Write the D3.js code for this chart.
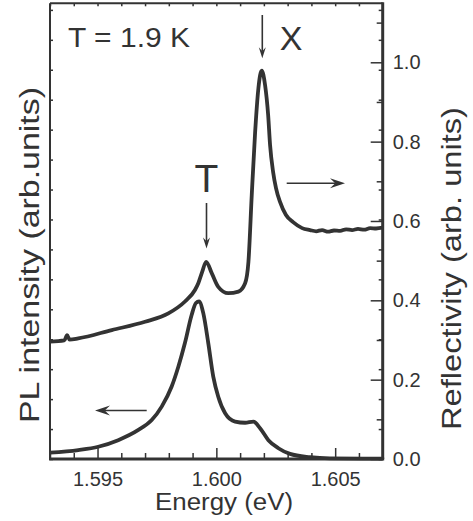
<!DOCTYPE html>
<html>
<head>
<meta charset="utf-8">
<script src="https://cdn.jsdelivr.net/npm/d3@7"></script>
<style>
  body { margin: 0; background: #fff; }
  text { font-family: "Liberation Sans", Arial, Helvetica, sans-serif; fill: #333; }
</style>
</head>
<body>
<div id="chart"></div>
<script>
// reflectivity curve (right axis)
var reflEnergy = [1.5930, 1.59360, 1.59372, 1.59382, 1.59419, 1.59560, 1.59700, 1.59798, 1.59868, 1.59910,
    1.59924, 1.59940, 1.59957, 1.59981, 1.60008, 1.60050, 1.60093, 1.60121, 1.60135, 1.60149,
    1.60163, 1.60177, 1.60191, 1.60205, 1.60218, 1.60226, 1.60239, 1.60251, 1.60268, 1.60293,
    1.60323, 1.60361, 1.60394, 1.60420, 1.60445, 1.60470, 1.60495, 1.60521, 1.60546, 1.60571,
    1.60596, 1.60622, 1.60647, 1.60672, 1.60700];
var reflValue = [0.296, 0.299, 0.312, 0.301, 0.304, 0.325, 0.346, 0.367, 0.397, 0.426,
    0.443, 0.471, 0.497, 0.468, 0.434, 0.418, 0.422, 0.443, 0.497, 0.666,
    0.822, 0.935, 0.979, 0.943, 0.867, 0.792, 0.723, 0.683, 0.648, 0.615,
    0.597, 0.582, 0.577, 0.574, 0.577, 0.573, 0.576, 0.575, 0.579, 0.577,
    0.580, 0.578, 0.582, 0.581, 0.583];

// PL curve (left axis, arb. units)
var plEnergy = [1.59300, 1.59419, 1.59503, 1.59587, 1.59672, 1.59728, 1.59770, 1.59812, 1.59840, 1.59868,
    1.59896, 1.59914, 1.59927, 1.59945, 1.59966, 1.59987, 1.60008, 1.60037, 1.60079, 1.60121,
    1.60156, 1.60184, 1.60219, 1.60261, 1.60310, 1.60394, 1.60478, 1.60700];
var plValue = [0.21, 0.30, 0.41, 0.63, 0.97, 1.30, 1.75, 2.42, 3.08, 3.88,
    4.81, 5.21, 5.26, 4.87, 3.87, 2.75, 2.08, 1.53, 1.25, 1.21,
    1.25, 1.03, 0.63, 0.36, 0.17, 0.06, 0.02, 0.01];

var xMajorTicks = [1.595, 1.600, 1.605];
var xMinorTicks = [1.593, 1.594, 1.596, 1.597, 1.598, 1.599, 1.601, 1.602, 1.603, 1.604, 1.606, 1.607];
var rMajorTicks = [0.0, 0.2, 0.4, 0.6, 0.8, 1.0];
var rMinorTicks = [0.1, 0.3, 0.5, 0.7, 0.9, 1.1];
var leftTicks = d3.range(0, 16);

var width = 473, height = 521;
var plotL = 50, plotR = 382.7, plotT = 3.3, plotB = 459;

var svg = d3.select("#chart").append("svg")
    .attr("width", width)
    .attr("height", height);

var x = d3.scaleLinear().domain([1.593, 1.607]).range([plotL, plotR]);
var yR = d3.scaleLinear().domain([0, 1.1487]).range([plotB, plotT]);
var yL = d3.scaleLinear().domain([0, 15.22]).range([plotB, plotT]);

// curves
var reflLine = d3.line()
    .x(function (d, i) { return x(reflEnergy[i]); })
    .y(function (d, i) { return yR(reflValue[i]); })
    .curve(d3.curveMonotoneX);
var plLine = d3.line()
    .x(function (d, i) { return x(plEnergy[i]); })
    .y(function (d, i) { return yL(plValue[i]); })
    .curve(d3.curveMonotoneX);

svg.append("path").datum(reflValue)
    .attr("d", reflLine)
    .attr("fill", "none").attr("stroke", "#333").attr("stroke-width", 3.8)
    .attr("stroke-linejoin", "round");
svg.append("path").datum(plValue)
    .attr("d", plLine)
    .attr("fill", "none").attr("stroke", "#333").attr("stroke-width", 3.8)
    .attr("stroke-linejoin", "round");

function styleAxis(g) {
    g.select(".domain").remove();
    g.selectAll(".tick line").attr("stroke", "#333").attr("stroke-width", 1.5);
    g.selectAll("text").attr("font-size", "20px").attr("fill", "#333")
        .attr("font-family", "'Liberation Sans', Arial, sans-serif");
}

// bottom axis
svg.append("g").attr("transform", "translate(0," + plotB + ")")
    .call(d3.axisBottom(x).tickValues(xMinorTicks).tickSize(-6).tickFormat(""))
    .call(styleAxis);
svg.append("g").attr("transform", "translate(0," + plotB + ")")
    .call(d3.axisBottom(x).tickValues(xMajorTicks).tickSize(-11).tickPadding(13)
        .tickFormat(d3.format(".3f")))
    .call(styleAxis);
// top axis (mirror)
svg.append("g").attr("transform", "translate(0," + plotT + ")")
    .call(d3.axisTop(x).tickValues(xMinorTicks.concat(xMajorTicks)).tickSize(-3).tickFormat(""))
    .call(styleAxis);

// left axis, no labels
svg.append("g").attr("transform", "translate(" + plotL + ",0)")
    .call(d3.axisLeft(yL).tickValues(leftTicks).tickSize(-3).tickFormat(""))
    .call(styleAxis);
svg.append("g").attr("transform", "translate(" + plotR + ",0)")
    .call(d3.axisRight(yL).tickValues(leftTicks).tickSize(-4).tickFormat(""))
    .call(styleAxis);

// right axis
svg.append("g").attr("transform", "translate(" + plotR + ",0)")
    .call(d3.axisRight(yR).tickValues(rMinorTicks).tickSize(-6).tickFormat(""))
    .call(styleAxis);
svg.append("g").attr("transform", "translate(" + plotR + ",0)")
    .call(d3.axisRight(yR).tickValues(rMajorTicks).tickSize(-12).tickPadding(10)
        .tickFormat(d3.format(".1f")))
    .call(styleAxis);

// frame
svg.append("line").attr("x1", plotL).attr("x2", plotL).attr("y1", plotT).attr("y2", plotB)
    .attr("stroke", "#333").attr("stroke-width", 2);
svg.append("line").attr("x1", plotL).attr("x2", plotR).attr("y1", plotT).attr("y2", plotT)
    .attr("stroke", "#333").attr("stroke-width", 2);
svg.append("line").attr("x1", plotL - 1).attr("x2", plotR + 1.5).attr("y1", plotB).attr("y2", plotB)
    .attr("stroke", "#333").attr("stroke-width", 3);
svg.append("line").attr("x1", plotR).attr("x2", plotR).attr("y1", plotT - 1).attr("y2", plotB)
    .attr("stroke", "#333").attr("stroke-width", 3);

// axis titles
svg.append("text")
    .attr("x", 224).attr("y", 510)
    .attr("text-anchor", "middle")
    .attr("font-size", "23px")
    .attr("textLength", 138).attr("lengthAdjust", "spacingAndGlyphs")
    .text("Energy (eV)");
svg.append("text")
    .attr("transform", "translate(39,255) rotate(-90)")
    .attr("text-anchor", "middle")
    .attr("font-size", "27px")
    .attr("textLength", 336).attr("lengthAdjust", "spacingAndGlyphs")
    .text("PL intensity (arb.units)");
svg.append("text")
    .attr("transform", "translate(461,268.5) rotate(-90)")
    .attr("text-anchor", "middle")
    .attr("font-size", "28px")
    .attr("textLength", 323).attr("lengthAdjust", "spacingAndGlyphs")
    .text("Reflectivity (arb. units)");

// annotations
svg.append("text").attr("x", 68).attr("y", 46.7)
    .attr("font-size", "27px")
    .attr("textLength", 122).attr("lengthAdjust", "spacingAndGlyphs")
    .text("T = 1.9 K");
svg.append("text").attr("x", 291).attr("y", 50)
    .attr("text-anchor", "middle").attr("font-size", "34px")
    .text("X");
svg.append("text").attr("x", 206.5).attr("y", 192)
    .attr("text-anchor", "middle").attr("font-size", "39px")
    .text("T");

function arrow(x1, y1, x2, y2, len, half) {
    var a = Math.atan2(y2 - y1, x2 - x1);
    var bx = x2 - len * Math.cos(a), by = y2 - len * Math.sin(a);
    var nx = -Math.sin(a), ny = Math.cos(a);
    var mx = x2 - len * 0.65 * Math.cos(a), my = y2 - len * 0.65 * Math.sin(a);
    svg.append("line")
        .attr("x1", x1).attr("y1", y1).attr("x2", mx).attr("y2", my)
        .attr("stroke", "#333").attr("stroke-width", 1.6);
    svg.append("path")
        .attr("d", "M" + x2 + "," + y2 +
            "L" + (bx + nx * half) + "," + (by + ny * half) +
            "L" + mx + "," + my +
            "L" + (bx - nx * half) + "," + (by - ny * half) + "Z")
        .attr("fill", "#333");
}
arrow(262.3, 15, 262.3, 58.3, 11, 3.5);
arrow(206.5, 203, 206.5, 248.5, 11, 3.5);
arrow(286.7, 183.3, 345, 183.3, 15, 5);
arrow(146.7, 410.5, 95, 410.5, 15, 5);
</script>
</body>
</html>
